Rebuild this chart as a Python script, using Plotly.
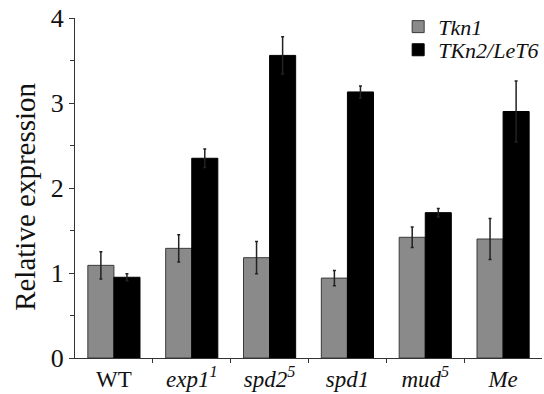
import plotly.graph_objects as go

categories = ["WT", "<i>exp1</i><sup><i>1</i></sup>", "<i>spd2</i><sup><i>5</i></sup>",
              "<i>spd1</i>", "<i>mud</i><sup><i>5</i></sup>", "<i>Me</i>"]
tkn1_values = [1.09, 1.29, 1.18, 0.94, 1.42, 1.40]
tkn1_errors = [0.16, 0.16, 0.19, 0.09, 0.12, 0.24]
tkn2_values = [0.95, 2.35, 3.56, 3.13, 1.71, 2.90]
tkn2_errors = [0.04, 0.11, 0.22, 0.07, 0.05, 0.36]
y_ticks = [0, 1, 2, 3, 4]
boundary_ticks = [0.5, 1.5, 2.5, 3.5, 4.5]
y_title = "Relative expression"

FONT = "Liberation Serif"
TXT = "#111111"

fig = go.Figure()
fig.add_trace(go.Bar(
    x=categories, y=tkn1_values, name="<i>Tkn1</i>", legend="legend",
    marker=dict(color="#8a8a8a", line=dict(color="#3a3a3a", width=1)),
    error_y=dict(type="data", array=tkn1_errors, visible=True, color="#222222", thickness=1.5, width=1.5),
))
fig.add_trace(go.Bar(
    x=categories, y=tkn2_values, name="<i>TKn2/LeT6</i>", legend="legend2",
    marker=dict(color="#000000", line=dict(color="#000000", width=1)),
    error_y=dict(type="data", array=tkn2_errors, visible=True, color="#222222", thickness=1.5, width=1.5),
))
# invisible helper trace on overlay axis so boundary ticks render
fig.add_trace(go.Scatter(x=[0, 5], y=[0, 0], xaxis="x2", mode="markers",
                         marker=dict(opacity=0), showlegend=False, hoverinfo="skip"))

legend_common = dict(xanchor="left", yanchor="middle",
                     font=dict(family=FONT, size=22, color=TXT),
                     bgcolor="rgba(0,0,0,0)", itemwidth=30)

fig.update_layout(
    width=544, height=394,
    margin=dict(l=75, r=2, t=18, b=36, autoexpand=False),
    paper_bgcolor="white", plot_bgcolor="white",
    barmode="group", bargap=0.33, bargroupgap=0,
    font=dict(family=FONT, color=TXT, size=22),
    showlegend=True,
    legend=dict(x=0.692, y=0.974, **legend_common),
    legend2=dict(x=0.692, y=0.906, **legend_common),
    xaxis=dict(
        showline=True, linecolor="#333333", linewidth=1.2,
        ticks="", tickfont=dict(family=FONT, size=23, color=TXT),
        showgrid=False, zeroline=False,
    ),
    xaxis2=dict(
        overlaying="x", range=[-0.5, 5.5], tickvals=boundary_ticks,
        ticks="outside", ticklen=4, tickcolor="#333333", showticklabels=False,
        showline=False, showgrid=False, zeroline=False, side="bottom",
    ),
    yaxis=dict(
        range=[0, 4], tickvals=y_ticks, ticktext=[str(v) for v in y_ticks],
        showline=True, linecolor="#333333", linewidth=1.2,
        ticks="outside", ticklen=5, tickcolor="#333333",
        minor=dict(dtick=0.5, ticks="outside", ticklen=4, tickcolor="#333333"),
        tickfont=dict(family=FONT, size=26, color=TXT),
        showgrid=False, zeroline=False,
    ),
    annotations=[dict(
        text=y_title, textangle=-90, xref="paper", yref="paper",
        x=0, y=0.474, xanchor="center", yanchor="middle", xshift=-50,
        showarrow=False, font=dict(family=FONT, size=29, color=TXT),
    )],
)

fig.write_html("out.html", config={"displayModeBar": False},
               post_script="document.body.style.margin='0';document.body.style.overflow='hidden';")
